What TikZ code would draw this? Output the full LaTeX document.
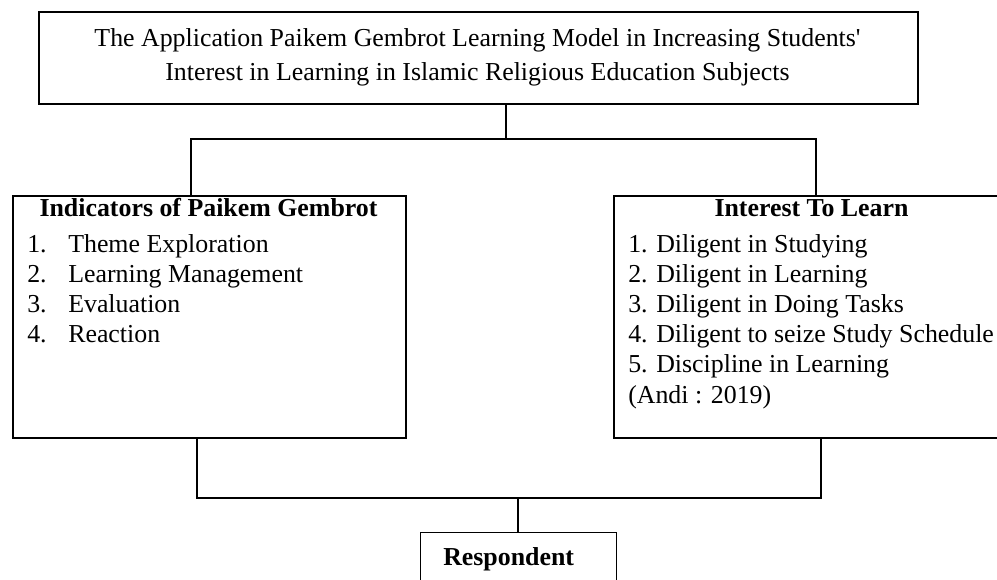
\documentclass[tikz,border=0pt]{standalone}
\usepackage{fontspec}
\setmainfont{Liberation Serif}
\begin{document}
\begin{tikzpicture}[x=0.75pt,y=-0.75pt,
  box/.style={draw, line width=1.6pt, inner sep=0pt, anchor=north west},
  conn/.style={line width=1.1pt},
  txt/.style={inner sep=0pt, font=\fontsize{19.4}{23}\selectfont},
  ttl/.style={txt, anchor=base},
  hd/.style={txt, font=\fontsize{19.4}{23}\selectfont\bfseries, anchor=base},
  item/.style={txt, anchor=base west}]
\useasboundingbox (0,0) rectangle (997,580);
% boxes
\node[box, minimum width=659.25pt, minimum height=69pt] (top) at (38,11) {};
\node[box, minimum width=294.75pt, minimum height=181.5pt] (lb) at (12,195) {};
\node[box, minimum width=297.75pt, minimum height=181.5pt] (rb) at (613,195) {};
\node[box, line width=1pt, minimum width=147pt, minimum height=51pt] (resp) at (420,532) {};
% title
\node[ttl] (t1) at (477.5,47) {The Application Paikem Gembrot Learning Model in Increasing Students\textquotesingle};
\node[ttl] (t2) at (477.5,81) {Interest in Learning in Islamic Religious Education Subjects};
% left box
\node[hd] (lh) at (208.5,217) {Indicators of Paikem Gembrot};
\node[item] (ln1) at (27,253) {1.};
\node[item] (li1) at (68,253) {Theme Exploration};
\node[item] (ln2) at (27,283) {2.};
\node[item] (li2) at (68,283) {Learning Management};
\node[item] (ln3) at (27,313) {3.};
\node[item] (li3) at (68,313) {Evaluation};
\node[item] (ln4) at (27,343) {4.};
\node[item] (li4) at (68,343) {Reaction};
% right box
\node[hd] (rh) at (811.5,217) {Interest To Learn};
\node[item] (ri1) at (628,253) {1. Diligent in Studying};
\node[item] (ri2) at (628,283) {2. Diligent in Learning};
\node[item] (ri3) at (628,313) {3. Diligent in Doing Tasks};
\node[item] (ri4) at (628,343) {4. Diligent to seize Study Schedule};
\node[item] (ri5) at (628,373) {5. Discipline in Learning};
\node[item] (ri6) at (628,404) {(Andi : 2019)};
% respondent
\node[item, font=\fontsize{19.4}{23}\selectfont\bfseries] (rt) at (443,566) {Respondent};
% connectors
\coordinate (j1) at (506,139);
\coordinate (jl) at (191,139);
\coordinate (jr) at (816,139);
\coordinate (bl) at (197,498);
\coordinate (br) at (821,498);
\coordinate (bm) at (518,498);
\draw[conn] (top.south -| j1) -- (j1);
\draw[conn] (lb.north -| jl) -- (jl) -- (jr) -- (rb.north -| jr);
\draw[conn] (lb.south -| bl) -- (bl) -- (br) -- (rb.south -| br);
\draw[conn] (bm) -- (resp.north -| bm);
\end{tikzpicture}
\end{document}
